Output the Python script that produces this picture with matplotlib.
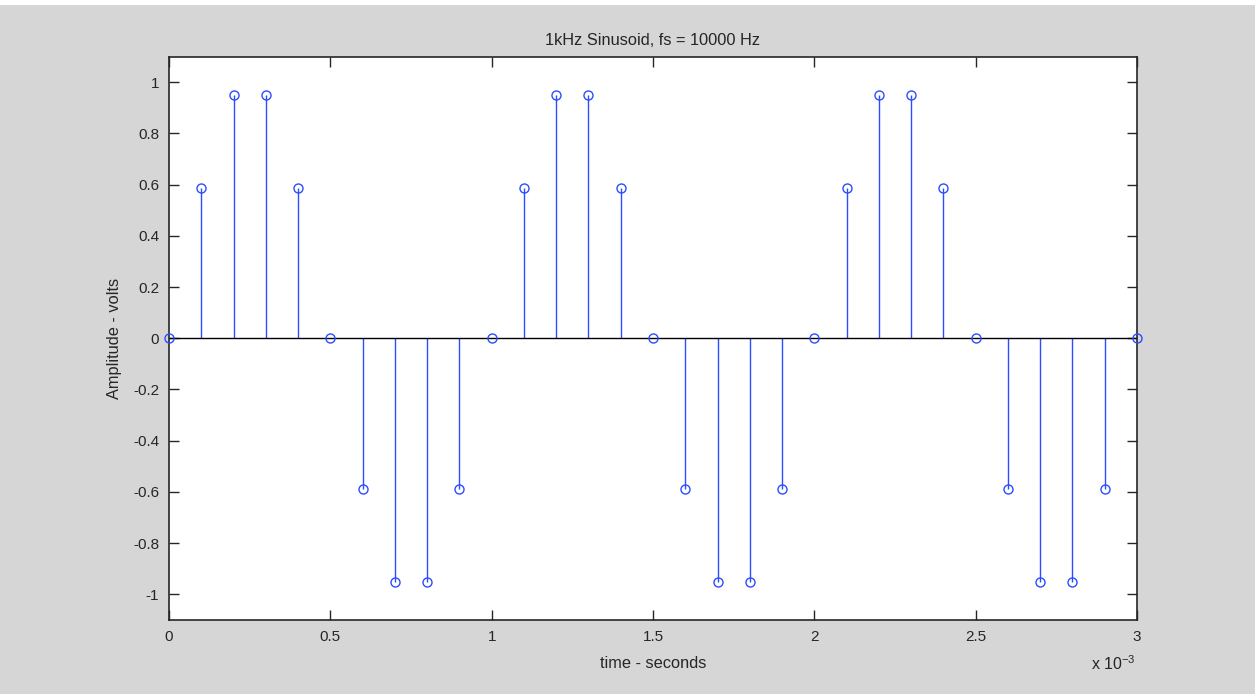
import matplotlib
matplotlib.use("Agg")
import matplotlib.pyplot as plt
from matplotlib.patches import Rectangle

plt.rcParams['font.family'] = ['Liberation Sans', 'DejaVu Sans']

# Sample times (in units of 1e-3 s) and sampled amplitudes of a 1 kHz sinusoid at fs = 10 kHz
time_ms = [0.0, 0.1, 0.2, 0.3, 0.4, 0.5, 0.6, 0.7, 0.8, 0.9,
           1.0, 1.1, 1.2, 1.3, 1.4, 1.5, 1.6, 1.7, 1.8, 1.9,
           2.0, 2.1, 2.2, 2.3, 2.4, 2.5, 2.6, 2.7, 2.8, 2.9, 3.0]
amplitude = [0.0, 0.5878, 0.9511, 0.9511, 0.5878, 0.0, -0.5878, -0.9511, -0.9511, -0.5878,
             0.0, 0.5878, 0.9511, 0.9511, 0.5878, 0.0, -0.5878, -0.9511, -0.9511, -0.5878,
             0.0, 0.5878, 0.9511, 0.9511, 0.5878, 0.0, -0.5878, -0.9511, -0.9511, -0.5878, 0.0]

x_ticks = [0, 0.5, 1, 1.5, 2, 2.5, 3]
x_tick_labels = ['0', '0.5', '1', '1.5', '2', '2.5', '3']
y_ticks = [-1, -0.8, -0.6, -0.4, -0.2, 0, 0.2, 0.4, 0.6, 0.8, 1]
y_tick_labels = ['-1', '-0.8', '-0.6', '-0.4', '-0.2', '0', '0.2', '0.4', '0.6', '0.8', '1']

bg = '#d6d6d6'
txt = '#262626'
stem_blue = '#2a4dff'

fig = plt.figure(figsize=(12.55, 6.94), dpi=100, facecolor=bg)
fig.patches.append(Rectangle((0, 1 - 5 / 694), 1, 5 / 694, transform=fig.transFigure,
                             facecolor='white', edgecolor='none', zorder=0))

ax = fig.add_axes([169 / 1255, 1 - 620 / 694, (1137 - 169) / 1255, (620 - 56.5) / 694])
ax.set_facecolor('white')

markerline, stemlines, baseline = ax.stem(time_ms, amplitude)
plt.setp(stemlines, color=stem_blue, linewidth=1.0)
plt.setp(markerline, color=stem_blue, marker='o', markersize=6.5,
         markerfacecolor='none', markeredgewidth=1.0, clip_on=False, zorder=4)
plt.setp(baseline, color='black', linewidth=1.0)

ax.set_xlim(0, 3)
ax.set_ylim(-1.1, 1.1)
ax.set_xticks(x_ticks)
ax.set_xticklabels(x_tick_labels)
ax.set_yticks(y_ticks)
ax.set_yticklabels(y_tick_labels)
ax.tick_params(direction='in', length=7, width=1, colors='#262626', labelsize=11,
               top=True, right=True, pad=7)

for s in ax.spines.values():
    s.set_color('#262626')
    s.set_linewidth(1.2)

ax.set_title('1kHz Sinusoid, fs = 10000 Hz', fontsize=11.8, color=txt, pad=8)
ax.set_xlabel('time - seconds', fontsize=11.8, color=txt, labelpad=9)
ax.set_ylabel('Amplitude - volts', fontsize=11.8, color=txt, labelpad=8)

fig.text(1091 / 1255, 1 - 670 / 694, r'x 10$^{\mathregular{-3}}$', fontsize=11.5, color=txt,
         ha='left', va='baseline')

fig.savefig('out.png', dpi=100, facecolor=bg)
